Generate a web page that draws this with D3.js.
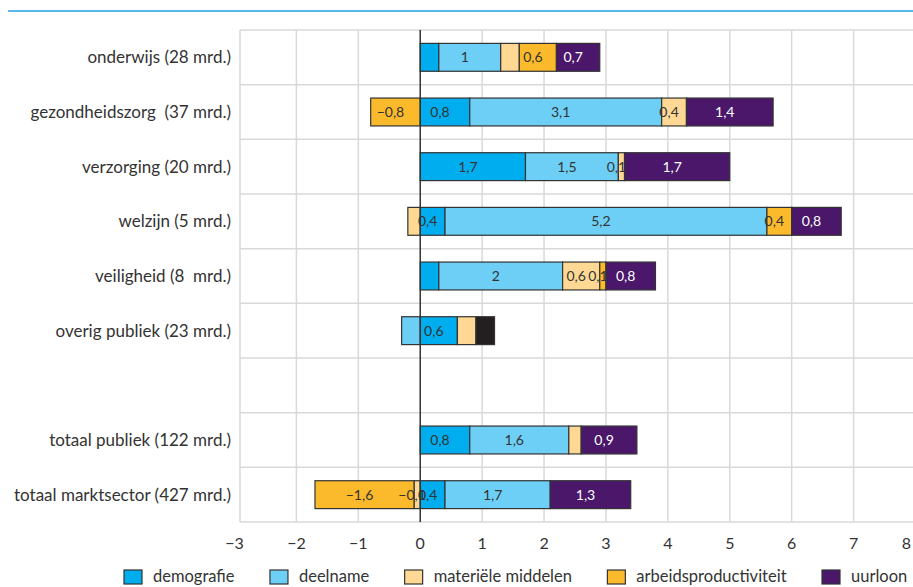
<!DOCTYPE html>
<html><head><meta charset="utf-8">
<script src="https://cdn.jsdelivr.net/npm/d3@7"></script>
<style>
body{margin:0;background:#fff}
svg text{font-family:Lato,"Open Sans",sans-serif;fill:#333}
</style>
</head><body>
<svg id="c" width="913" height="587"></svg>
<script>
// ---- data ----
const categories = [
  "onderwijs (28 mrd.)",
  "gezondheidszorg  (37 mrd.)",
  "verzorging (20 mrd.)",
  "welzijn (5 mrd.)",
  "veiligheid (8  mrd.)",
  "overig publiek (23 mrd.)",
  " ",
  "totaal publiek (122 mrd.)",
  "totaal marktsector (427 mrd.)"
];
const seriesNames = ["demografie", "deelname", "materiële middelen", "arbeidsproductiviteit", "uurloon"];
const demografie            = [0.3,  0.8, 1.7,  0.4, 0.3,  0.6, 0, 0.8,  0.4];
const deelname              = [1.0,  3.1, 1.5,  5.2, 2.0, -0.3, 0, 1.6,  1.7];
const materieleMiddelen     = [0.3,  0.4, 0.1, -0.2, 0.6,  0.3, 0, 0.2, -0.1];
const arbeidsproductiviteit = [0.6, -0.8, 0,    0.4, 0.1,  0,   0, 0,   -1.6];
const uurloon               = [0.7,  1.4, 1.7,  0.8, 0.8,  0.3, 0, 0.9,  1.3];
// which segments carry a value label (1 = yes)
const labelDemografie  = [0, 1, 1, 1, 0, 1, 0, 1, 1];
const labelDeelname    = [1, 1, 1, 1, 1, 0, 0, 1, 1];
const labelMaterieel   = [0, 1, 1, 0, 1, 0, 0, 0, 1];
const labelArbeid      = [1, 1, 0, 1, 1, 0, 0, 0, 1];
const labelUurloon     = [1, 1, 1, 1, 1, 0, 0, 1, 1];
const tickValues = [-3, -2, -1, 0, 1, 2, 3, 4, 5, 6, 7, 8];

// ---- styles ----
const colors = ["#00aeef", "#6dcff6", "#ffd994", "#fbb92c", "#4a176b"];
const darkSegment = {row: 5, series: 4, color: "#231f20"};

const seriesValues = [demografie, deelname, materieleMiddelen, arbeidsproductiviteit, uurloon];
const seriesLabels = [labelDemografie, labelDeelname, labelMaterieel, labelArbeid, labelUurloon];

const table = categories.map((c, i) => {
  const row = {cat: c, idx: i};
  seriesNames.forEach((s, j) => row[s] = seriesValues[j][i]);
  return row;
});

const svg = d3.select("#c");
const W = 913, H = 587;
const plotLeft = 240, plotRight = 913, plotTop = 30, plotBottom = 522;

const x = d3.scaleLinear().domain([-3, 8]).range([234.5, 915.5]);
const y = d3.scaleBand().domain(categories).range([plotTop, plotBottom]).paddingInner(0.49).paddingOuter(0.245);

// top rule
svg.append("line").attr("x1", 8).attr("x2", W).attr("y1", 11).attr("y2", 11)
  .attr("stroke", "#5bb8e6").attr("stroke-width", 2);

// grid
const grid = svg.append("g");
const step = y.step();
d3.range(categories.length + 1).forEach(i => {
  const yy = plotTop + i * step;
  grid.append("line").attr("x1", plotLeft).attr("x2", plotRight).attr("y1", yy).attr("y2", yy)
    .attr("stroke", "#d9d9d9").attr("stroke-width", 1.5);
});
tickValues.filter(t => x(t) > plotLeft && t !== 0).forEach(t => {
  grid.append("line").attr("x1", x(t)).attr("x2", x(t)).attr("y1", plotTop).attr("y2", plotBottom)
    .attr("stroke", "#d9d9d9").attr("stroke-width", 1.5);
});
grid.append("line").attr("x1", plotLeft).attr("x2", plotLeft).attr("y1", plotTop).attr("y2", plotBottom)
  .attr("stroke", "#d9d9d9").attr("stroke-width", 1.5);

// stacked bars
const stack = d3.stack().keys(seriesNames).offset(d3.stackOffsetDiverging);
const stacked = stack(table);
const bars = svg.append("g");
stacked.forEach((layer, j) => {
  layer.forEach((d, i) => {
    if (!d.data[seriesNames[j]]) return;
    const x0 = x(Math.min(d[0], d[1])), x1 = x(Math.max(d[0], d[1]));
    const fill = (i === darkSegment.row && j === darkSegment.series) ? darkSegment.color : colors[j];
    bars.append("rect").attr("x", x0).attr("y", y(d.data.cat)).attr("width", x1 - x0)
      .attr("height", y.bandwidth()).attr("fill", fill).attr("stroke", "#333").attr("stroke-width", 1.2);
  });
});
const fmt = v => d3.format(".1~f")(v).replace(".", ",").replace("-", "\u2212");
stacked.forEach((layer, j) => {
  layer.forEach((d, i) => {
    const v = d.data[seriesNames[j]];
    if (!v || !seriesLabels[j][i]) return;
    const cx = (x(d[0]) + x(d[1])) / 2 - 5;
    bars.append("text").attr("x", cx).attr("y", y(d.data.cat) + y.bandwidth() / 2)
      .attr("dy", "0.35em").attr("text-anchor", "middle").attr("font-size", 14)
      .style("fill", j === 4 ? "#fff" : "#333").text(fmt(v));
  });
});

// zero line
svg.append("line").attr("x1", x(0)).attr("x2", x(0)).attr("y1", plotTop).attr("y2", plotBottom)
  .attr("stroke", "#333").attr("stroke-width", 1.5);

// category labels
svg.append("g").selectAll("text").data(categories).join("text")
  .attr("x", 231).attr("y", d => y(d) + y.bandwidth() / 2).attr("dy", "0.35em")
  .attr("text-anchor", "end").attr("font-size", 17).style("white-space", "pre").text(d => d);

// x tick labels
svg.append("g").selectAll("text").data(tickValues).join("text")
  .attr("x", d => d === 8 ? W - 2 : x(d)).attr("y", 543).attr("dy", "0.35em")
  .attr("text-anchor", d => d === 8 ? "end" : "middle").attr("font-size", 16)
  .text(d => fmt(d));

// legend: spread items between the first and last swatch
const leg = svg.append("g");
const legStart = 124, legLastSwatch = 822, swatchToText = 29;
const items = seriesNames.map((s, j) => {
  const t = leg.append("text").attr("y", 576).attr("dy", "0.35em").attr("font-size", 16.5).text(s);
  return {t, w: t.node().getComputedTextLength(), j};
});
const used = items.slice(0, -1).reduce((a, it) => a + swatchToText + it.w, 0);
const gap = (legLastSwatch - legStart - used) / (items.length - 1);
let lx = legStart;
items.forEach(it => {
  leg.append("rect").attr("x", lx).attr("y", 570).attr("width", 18).attr("height", 14)
    .attr("fill", colors[it.j]).attr("stroke", "#333").attr("stroke-width", 1.2);
  it.t.attr("x", lx + swatchToText);
  lx += swatchToText + it.w + gap;
});
</script>
</body></html>
